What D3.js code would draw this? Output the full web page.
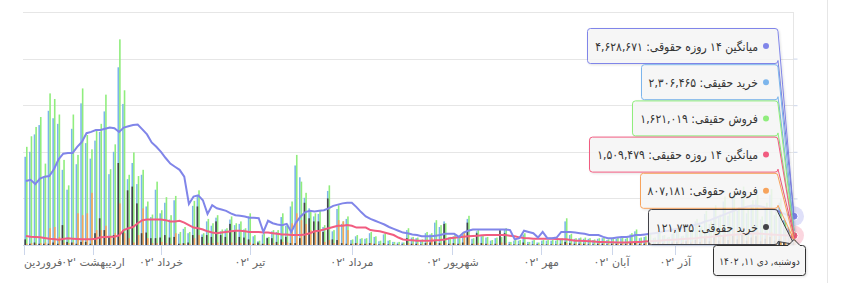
<!DOCTYPE html>
<html>
<head>
<meta charset="utf-8">
<script src="https://cdn.jsdelivr.net/npm/d3@7"></script>
<style>
  body { margin: 0; background: #fff; }
  svg { display: block; font-family: "DejaVu Sans", sans-serif; }
  .tip text { font-family: "DejaVu Sans Condensed", "DejaVu Sans", sans-serif; }
</style>
</head>
<body>
<svg id="chart" width="846" height="283"></svg>
<script>
// values in millions of shares, one entry per trading day (ordinal axis)
const buyReal = [
  14.2,15.0,17.8,19.3,11.0,21.6,20.4,19.5,12.1,8.9,18.7,13.0,22.8,16.4,13.9,16.8,18.2,21.5,11.4,15.0,
  28.6,22.7,10.6,13.2,9.8,11.3,6.2,4.5,8.9,5.1,6.8,4.1,7.2,1.8,2.6,1.9,6.3,7.9,1.7,3.8,
  3.1,4.4,2.2,2.5,4.1,3.2,3.4,2.5,4.6,1.4,0.6,1.7,1.2,2.2,2.1,4.5,3.1,6.2,
  12.8,10.9,7.6,5.9,4.6,5.0,2.9,8.7,2.2,5.8,3.4,4.2,0.8,1.4,1.0,1.0,1.9,1.3,0.6,1.7,
  0.7,0.5,0.4,0.4,2.4,1.2,1.1,0.8,1.9,1.7,3.6,2.9,3.8,1.2,1.4,1.1,1.7,4.2,1.0,2.2,
  1.4,1.2,0.7,1.1,1.2,2.4,0.5,0.7,0.7,1.7,0.5,0.7,0.4,0.7,0.7,0.7,0.7,1.0,3.8,1.6,1.0,
  1.1,1.0,1.0,0.8,1.0,1.1,0.8,1.1,1.0,1.1,1.0,1.7,2.2,1.1,
  1.3,1.6,1.1,2.0,1.5,1.2,1.8,2.3,1.4,2.8,2.2,3.8,2.7,5.0,3.4,5.8,4.4,7.0,4.7,7.7,
  5.5,8.5,5.1,6.5,7.3,4.1,6.1,8.1,4.8,6.8,4.0,2.9,2.306465
];
const sellReal = [
  15.8,17.5,19.0,20.6,13.1,24.4,23.5,21.0,13.7,9.6,21.0,14.5,25.2,17.7,15.4,18.6,19.5,24.2,12.2,16.2,
  33.1,24.9,11.3,14.9,11.1,12.1,7.0,4.9,10.2,5.6,7.7,4.8,7.9,2.1,2.9,2.1,7.1,8.8,1.9,4.2,
  3.5,4.8,2.5,2.7,4.6,3.5,3.8,2.7,5.1,1.6,0.7,1.9,1.3,2.4,2.4,5.1,3.4,7.0,
  14.5,10.2,8.4,5.6,5.1,5.6,3.2,9.6,2.4,6.4,3.8,4.6,0.9,1.6,1.1,1.1,2.1,1.4,0.7,1.9,
  0.8,0.5,0.5,0.4,2.7,1.3,1.2,0.9,2.1,1.9,4.0,3.2,3.5,1.3,1.6,1.2,1.9,4.7,1.1,2.4,
  1.6,1.3,0.8,1.2,1.3,2.7,0.5,0.8,0.8,1.9,0.5,0.8,0.4,0.8,0.8,0.8,0.8,1.1,4.3,1.8,1.1,
  1.2,1.2,1.1,0.9,1.1,1.2,0.9,1.2,1.2,1.2,1.2,1.9,2.5,1.2,
  1.4,1.8,1.2,2.2,1.6,1.3,2.0,2.6,1.5,3.1,2.4,4.2,3.0,5.5,3.8,6.4,4.9,7.8,5.2,8.6,
  6.1,9.4,5.7,7.2,8.1,4.6,6.8,9.0,5.3,7.5,4.4,3.2,1.621019
];
const sellLegal = [
  0.2,0.3,0.2,0.3,0.4,2.7,2.9,1.3,0.4,0.3, 0.4,5.1,4.8,5.1,8.4,2.4,2.4,3.1,1.3,1.9,
  6.7,1.9,1.1,0.4,1.6,5.9,1.1,0.3,0.3,0.5, 0.3,0.2,1.9,0.2,0.2,0.2,1.1,1.6,0.2,0.3,
  0.3,0.4,0.3,0.2,0.4,0.3,0.3,0.2,0.4,0.2, 0.1,0.2,0.2,0.3,0.2,0.5,0.4,3.5,5.1,4.0,
  3.4,2.4,2.4,2.4,0.5,0.8,0.3,4.0,3.8,2.4, 0.2,0.3,0.2,0.2,0.3,0.2,0.1,0.2,0.1,0.1,
  0.1,0.1,0.3,0.2,0.2,0.1,0.4,1.1,0.3,0.2, 0.4,0.2,0.2,0.2,1.9,1.6,0.2,0.3,0.2,0.2,
  0.1,0.2,0.4,0.3,0.1,0.1,0.1,0.2,0.1,0.1, 0.1,0.1,0.1,0.1,0.1,0.2,0.3,0.2,0.2,0.2,
  0.2,0.1,0.1,0.2,0.2,0.1,0.2,0.2,0.2,0.2, 0.3,0.3,0.2,0.3,0.4,0.3,0.5,0.4,0.3,0.6,
  0.7,0.5,0.9,0.6,1.2,0.8,1.5,1.0,1.9,1.1, 2.2,1.4,2.6,1.6,2.9,1.3,2.0,2.4,1.2,1.8,
  2.1,1.4,1.7,1.1,0.9,0.807181
];
const buyLegal = [
  0.9,0.2,0.4,0.2,0.2,0.2,0.4,0.2,3.2,0.5, 0.4,0.2,0.5,0.5,0.2,1.9,4.3,2.4,1.3,1.6,
  13.2,2.4,8.8,9.4,6.7,1.9,2.0,1.1,1.1,1.2, 1.6,1.2,1.3,0.2,0.3,0.4,1.6,6.2,1.3,1.6,
  1.3,3.8,1.6,1.3,3.4,2.4,1.3,1.2,0.9,0.2, 0.4,0.2,1.1,1.1,0.5,0.9,1.3,0.3,0.3,1.1,
  6.8,4.3,3.8,3.8,2.1,7.5,0.9,0.8,0.3,0.2, 0.2,0.3,0.2,0.2,0.3,0.2,0.1,0.3,0.1,0.1,
  0.1,0.1,1.1,0.2,0.2,0.1,0.3,0.4,0.6,0.3, 3.4,0.2,0.3,0.2,0.4,3.6,0.2,1.9,0.3,0.2,
  0.1,0.2,2.4,1.9,0.1,0.1,0.1,0.4,0.1,0.1, 0.1,0.1,0.1,0.1,0.1,0.2,0.5,0.3,0.2,0.2,
  0.2,0.1,0.1,0.2,0.2,0.1,0.2,0.2,0.2,0.2, 0.3,0.4,0.2,0.2,0.3,0.2,0.4,0.3,0.2,0.4,
  0.5,0.3,0.6,0.4,0.8,0.5,1.1,0.6,1.3,0.7, 1.5,0.8,1.6,0.9,1.8,0.7,1.2,1.4,0.6,1.0,
  1.3,0.7,0.9,0.5,0.3,0.121735
];
const avgLegal14 = [
  10.3,10.5,9.8,10.7,11.0,11.1,12.2,13.8,14.7,14.8, 14.8,15.8,16.6,18.0,18.2,18.5,18.5,18.7,18.9,18.8,
  18.2,18.9,19.1,19.3,19.4,18.6,17.8,16.5,15.8,15.0, 14.0,13.1,12.6,12.1,11.0,6.6,7.8,8.0,7.2,5.0,
  6.4,5.9,5.7,5.5,5.1,4.8,4.7,4.6,4.4,4.4, 4.3,2.1,3.9,3.5,3.3,3.2,3.4,2.1,3.6,4.6,
  5.3,5.5,5.4,5.5,5.6,5.9,6.3,6.5,6.7,6.8, 6.8,6.1,5.3,4.6,4.2,3.9,3.6,3.3,2.9,2.6,
  2.3,2.0,1.9,1.7,1.6,1.4,1.4,1.4,1.5,1.6, 1.8,1.8,1.8,1.3,2.0,2.3,2.5,2.5,2.5,2.5,
  2.5,2.5,2.5,2.5,2.4,0.9,1.1,2.3,2.1,1.9, 1.2,2.1,1.1,1.1,1.2,2.1,2.1,2.1,2.0,1.9,
  1.8,1.6,1.6,1.6,1.3,1.1,1.1,1.2,1.3,1.3, 1.4,1.6,1.6,1.7,1.8,1.9,2.0,2.2,2.3,2.5,
  2.6,2.8,3.0,3.1,3.3,3.5,3.8,4.0,4.3,4.6, 4.9,5.2,5.5,5.8,6.0,6.2,6.3,6.3,6.2,6.0,
  5.8,5.6,5.3,5.0,4.8,4.628671
];
const avgReal14 = [
  1.45,1.34,1.29,1.23,1.13,1.02,0.96,0.86,0.96,1.07, 1.02,0.96,0.91,0.91,0.91,1.02,1.23,1.29,1.34,1.34,
  1.55,2.4,2.7,2.9,3.5,4.0,4.1,4.1,4.1,4.1, 4.0,3.8,3.8,3.9,3.6,3.2,2.8,2.7,2.5,2.2,
  2.0,1.9,2.0,2.1,2.2,2.3,2.3,2.2,2.1,2.1, 2.1,2.0,2.0,1.9,1.8,1.7,1.7,1.6,1.6,1.6,
  1.7,1.9,2.2,2.3,2.5,2.7,2.9,3.1,3.1,3.2, 3.1,2.8,2.8,2.8,2.4,2.3,2.2,2.0,1.8,1.6,
  1.2,0.9,0.8,0.75,0.7,0.7,0.7,0.7,0.75,0.8, 0.9,1.07,1.18,1.23,1.34,1.4,1.45,1.5,1.55,1.6,
  1.6,1.6,1.6,1.6,1.5,1.4,1.23,1.13,1.07,1.02, 1.02,1.02,1.02,1.02,0.96,0.91,0.91,0.8,0.7,0.7,
  0.65,0.6,0.55,0.5,0.5,0.45,0.45,0.4,0.4,0.4, 0.45,0.5,0.5,0.55,0.6,0.65,0.7,0.75,0.8,0.85,
  0.9,0.95,1.0,1.05,1.1,1.2,1.25,1.3,1.4,1.45, 1.5,1.6,1.65,1.7,1.75,1.8,1.85,1.85,1.8,1.75,
  1.7,1.65,1.6,1.55,1.52,1.509479
];

// month ticks on the ordinal axis (position given as trading-day index)
const monthLabels = ["فروردین", "اردیبهشت '۰۲", "خرداد '۰۲", "تیر '۰۲", "مرداد '۰۲", "شهریور '۰۲", "مهر '۰۲", "آبان '۰۲", "آذر '۰۲"];
const monthIndex = [-0.4, 14.4, 29.0, 48.1, 70.0, 91.6, 110.7, 125.8, 139.5];
const yTicks = [0, 7.5, 15, 22.5, 30, 37.5];
const hoverDate = "دوشنبه, دی ۱۱, ۱۴۰۲";

const seriesInfo = [
  { name: "میانگین ۱۴ روزه حقوقی", color: "#8085e9", data: avgLegal14 },
  { name: "خرید حقیقی", color: "#7cb5ec", data: buyReal },
  { name: "فروش حقیقی", color: "#90ed7d", data: sellReal },
  { name: "میانگین ۱۴ روزه حقیقی", color: "#f15c80", data: avgReal14 },
  { name: "فروش حقوقی", color: "#f7a35c", data: sellLegal },
  { name: "خرید حقوقی", color: "#434348", data: buyLegal }
];

const faDigits = "۰۱۲۳۴۵۶۷۸۹";
const toFa = s => String(s).replace(/\d/g, d => faDigits[d]);
const fmt = v => toFa(d3.format(",")(Math.round(v * 1e6)));

const svg = d3.select("#chart");
const n = buyReal.length;
const plotLeft = 23, plotRight = 794, plotTop = 12, plotBottom = 245;

const x = d3.scaleLinear().domain([0, n - 1]).range([26, 794]);
const y = d3.scaleLinear().domain([0, 37.5]).range([plotBottom, plotTop]);

const defs = svg.append("defs");
const shadow = defs.append("filter").attr("id", "shadow").attr("x", "-10%").attr("y", "-10%").attr("width", "130%").attr("height", "140%");
shadow.append("feDropShadow").attr("dx", 1).attr("dy", 1).attr("stdDeviation", 1).attr("flood-color", "#000").attr("flood-opacity", 0.12);
defs.append("clipPath").attr("id", "plotclip").append("rect")
  .attr("x", plotLeft).attr("y", 0).attr("width", plotRight - plotLeft + 4).attr("height", plotBottom);

// container border on the right
svg.append("line").attr("x1", 827.5).attr("x2", 827.5).attr("y1", 0).attr("y2", 283).attr("stroke", "#e6e6e6");

// grid lines
svg.append("g").selectAll("line").data(yTicks.slice(1)).join("line")
  .attr("x1", plotLeft).attr("x2", plotRight)
  .attr("y1", d => Math.round(y(d)) + 0.5).attr("y2", d => Math.round(y(d)) + 0.5)
  .attr("stroke", "#e6e6e6");

// right y axis: only line and ticks, its labels sit hidden under the tooltips
const yAxis = svg.append("g").attr("transform", `translate(${plotRight - 0.5},0)`)
  .call(d3.axisRight(y).tickValues(yTicks.slice(1, -1)).tickSize(4).tickFormat(""));
yAxis.select(".domain").attr("stroke", "#e6e6e6").attr("d", `M0,${plotTop}V${plotBottom}`);
yAxis.selectAll(".tick line").attr("stroke", "#ccd6eb");

// columns: blue/black share the left slot, green/orange the right slot
const slot = 1.6;
const bars = svg.append("g").attr("clip-path", "url(#plotclip)");
function drawBars(data, color, offset) {
  bars.append("g").selectAll("rect").data(data).join("rect")
    .attr("x", (d, i) => x(i) + offset)
    .attr("width", slot)
    .attr("y", d => y(d))
    .attr("height", d => plotBottom - y(d))
    .attr("fill", color);
}
drawBars(buyReal, "#7cb5ec", -slot);
drawBars(sellReal, "#90ed7d", 0);
drawBars(sellLegal, "#f7a35c", 0);
drawBars(buyLegal, "#434348", -slot);

// 14-day average lines
const line = d3.line().x((d, i) => x(i)).y(d => y(d));
svg.append("path").datum(avgReal14).attr("d", line).attr("fill", "none").attr("stroke", "#f15c80").attr("stroke-width", 2);
svg.append("path").datum(avgLegal14).attr("d", line).attr("fill", "none").attr("stroke", "#8085e9").attr("stroke-width", 2);

// x axis
svg.append("line").attr("x1", plotLeft).attr("x2", plotRight).attr("y1", plotBottom + 0.5).attr("y2", plotBottom + 0.5).attr("stroke", "#ccd6eb");
const xt = svg.append("g");
xt.selectAll("line").data(monthIndex).join("line")
  .attr("x1", d => Math.round(x(d)) + 0.5).attr("x2", d => Math.round(x(d)) + 0.5)
  .attr("y1", plotBottom).attr("y2", plotBottom + 10).attr("stroke", "#ccd6eb");
xt.selectAll("text").data(monthLabels).join("text")
  .attr("x", (d, i) => i === 0 ? plotLeft + 1 : x(monthIndex[i]))
  .attr("y", 266)
  .attr("text-anchor", (d, i) => i === 0 ? "start" : "middle")
  .attr("font-size", 11).attr("fill", "#666")
  .text(d => d);

// hover markers on the last day
const last = n - 1;
[[avgLegal14, "#8085e9"], [avgReal14, "#f15c80"]].forEach(([data, c]) => {
  svg.append("circle").attr("cx", x(last)).attr("cy", y(data[last])).attr("r", 10).attr("fill", c).attr("opacity", 0.25);
  svg.append("circle").attr("cx", x(last)).attr("cy", y(data[last])).attr("r", 4).attr("fill", c).attr("stroke", "#fff");
});

// split tooltip
function callout(bx, by, w, h, ax, ay, r) {
  return `M${bx + r},${by} H${bx + w - r} Q${bx + w},${by} ${bx + w},${by + r} L${ax},${ay} L${bx + w},${by + h - r}` +
    ` Q${bx + w},${by + h} ${bx + w - r},${by + h} H${bx + r} Q${bx},${by + h} ${bx},${by + h - r} V${by + r} Q${bx},${by} ${bx + r},${by} Z`;
}
const tips = svg.append("g").attr("class", "tip");
const probe = tips.append("text").attr("font-size", 12).text(seriesInfo[0].name + ": " + fmt(seriesInfo[0].data[last]));
const fs = Math.min(13.5, 12 * 163 / probe.node().getComputedTextLength());
probe.remove();

const boxRight = 778, boxH = 35;
seriesInfo.forEach((s, k) => {
  const by = 28.5 + k * 36.2;
  const g = tips.append("g");
  const label = s.name + ": " + fmt(s.data[last]);
  const t = g.append("text").attr("font-size", fs).attr("fill", "#333").text(label);
  const tw = t.node().getComputedTextLength();
  const bx = Math.round(boxRight - 20 - tw - 8) + 0.5;
  g.insert("path", "text")
    .attr("d", callout(bx, by, boxRight - bx, boxH, x(last), y(s.data[last]), 3))
    .attr("fill", "rgba(247,247,247,0.85)").attr("stroke", s.color).attr("stroke-width", 1)
    .attr("filter", "url(#shadow)");
  t.attr("x", boxRight - 20).attr("y", by + 22).attr("text-anchor", "end");
  g.append("circle").attr("cx", boxRight - 12).attr("cy", by + 17.5).attr("r", 3).attr("fill", s.color);
});

// date header box
const hx = 713.5, hy = 245.5, hw = 92, hh = 30;
const ax = x(last);
tips.append("path")
  .attr("d", `M${hx + 3},${hy} H${ax - 6} L${ax},${hy - 6} L${ax + 6},${hy} H${hx + hw - 3} Q${hx + hw},${hy} ${hx + hw},${hy + 3} V${hy + hh - 3} Q${hx + hw},${hy + hh} ${hx + hw - 3},${hy + hh} H${hx + 3} Q${hx},${hy + hh} ${hx},${hy + hh - 3} V${hy + 3} Q${hx},${hy} ${hx + 3},${hy} Z`)
  .attr("fill", "rgba(247,247,247,0.85)").attr("stroke", "#333").attr("filter", "url(#shadow)");
tips.append("text").attr("x", hx + hw / 2).attr("y", hy + 19).attr("text-anchor", "middle")
  .attr("font-size", 10).attr("fill", "#333").text(hoverDate);
</script>
</body>
</html>
